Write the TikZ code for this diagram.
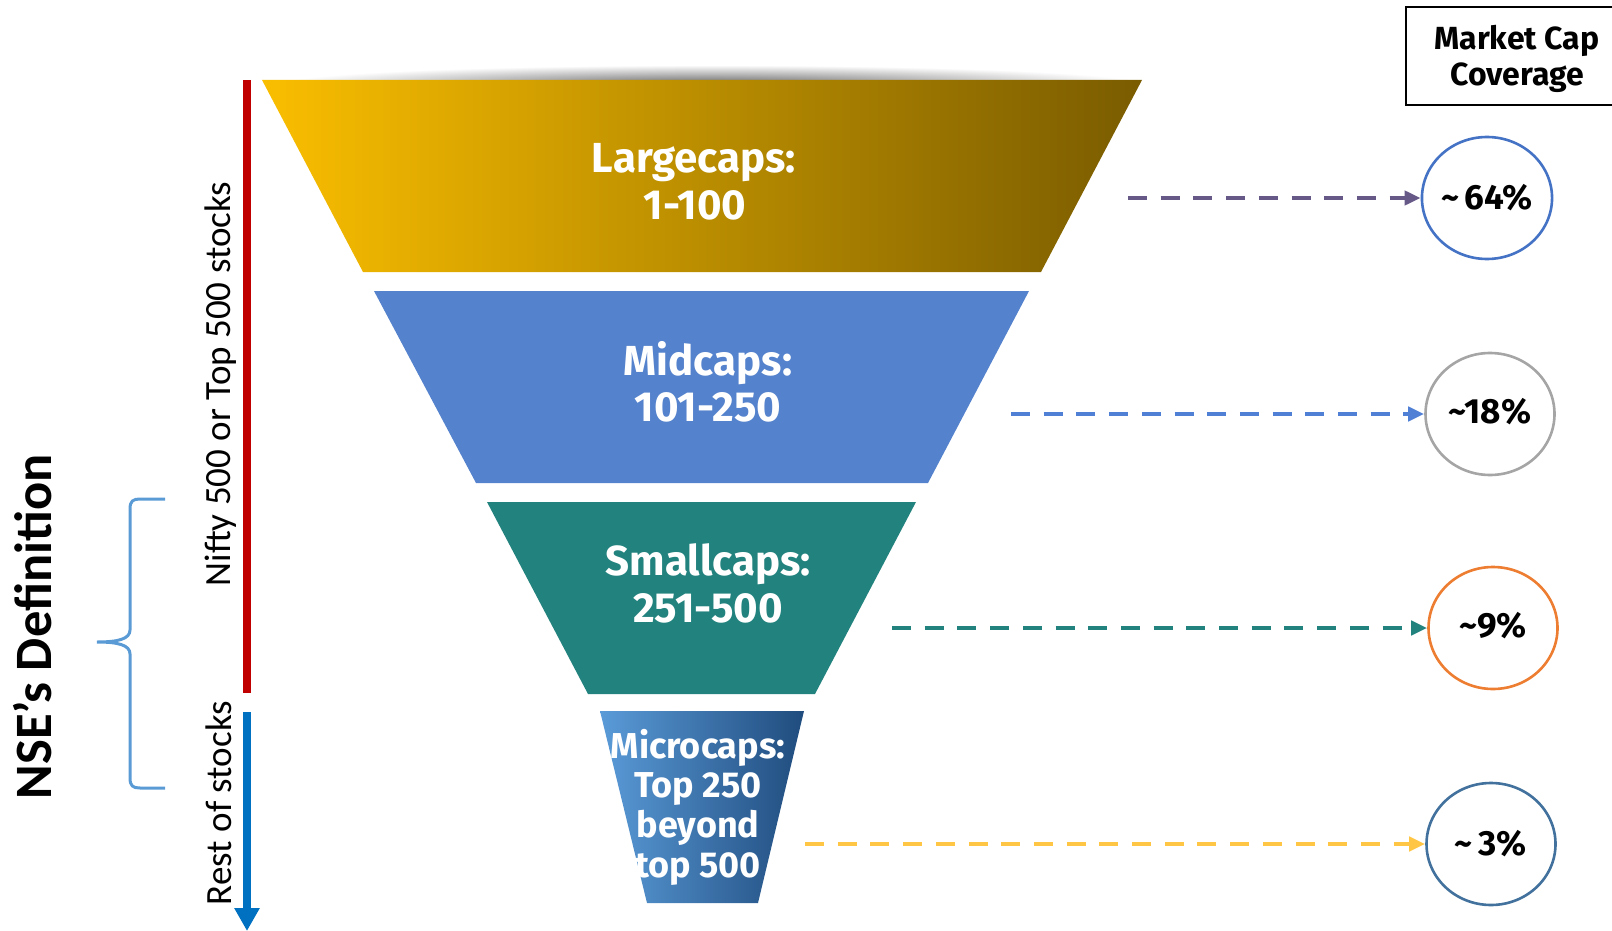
\documentclass[tikz,border=0pt]{standalone}
\usepackage{fontspec}
\usetikzlibrary{arrows.meta,shapes.geometric}
\newfontfamily\labelfont{Fira Sans}
\newfontfamily\calib{Carlito}
\newcommand{\approxsign}{{\char126}}

\definecolor{lgL}{RGB}{250,190,0}
\definecolor{lgR}{RGB}{122,92,0}
\definecolor{midc}{RGB}{84,130,204}
\definecolor{smallc}{RGB}{34,130,126}
\definecolor{micL}{RGB}{90,155,216}
\definecolor{micR}{RGB}{32,76,126}
\definecolor{arA}{RGB}{102,88,135}
\definecolor{arB}{RGB}{80,128,214}
\definecolor{arC}{RGB}{34,130,126}
\definecolor{arD}{RGB}{255,198,70}
\definecolor{ciA}{RGB}{68,114,196}
\definecolor{ciB}{RGB}{165,165,165}
\definecolor{ciC}{RGB}{237,125,49}
\definecolor{ciD}{RGB}{65,113,156}
\definecolor{bracec}{RGB}{91,155,213}
\definecolor{redbar}{RGB}{192,0,0}
\definecolor{bluebar}{RGB}{0,112,192}

\tikzset{
  tierlabel/.style={text=white, anchor=base, inner sep=0pt,
    font=\labelfont\bfseries\fontsize{42}{46}\selectfont},
  microlabel/.style={text=white, anchor=base, inner sep=0pt,
    font=\labelfont\bfseries\fontsize{36}{40}\selectfont},
  share/.style={ellipse, draw=#1, line width=2.6pt, minimum width=129pt,
    minimum height=122pt, inner sep=0pt,
    font=\labelfont\bfseries\fontsize{35}{38}\selectfont},
  pointer/.style={draw=#1, line width=4.5pt, dash pattern=on 19pt off 13.7pt,
    -{Triangle[length=16pt,width=14pt,fill=#1]}},
  sidetext/.style={rotate=90, inner sep=0pt,
    font=\calib\fontsize{37}{40}\selectfont},
}

\begin{document}
\begin{tikzpicture}[x=1pt,y=-1pt]
\useasboundingbox (0,0) rectangle (1612,931);

% soft shadow above the mouth of the funnel
\begin{scope}
  \clip (250,55) rectangle (1160,80.5);
  \shade[inner color=black!60, outer color=white] (712,84) ellipse [x radius=430, y radius=19];
\end{scope}

% funnel tiers
\shade[left color=lgL, right color=lgR] (262,80) -- (1142,80) -- (1041,272) -- (363,272) -- cycle;
\fill[midc] (374,291) -- (1029,291) -- (928,483) -- (476,483) -- cycle;
\fill[smallc] (487,502) -- (916,502) -- (815,694) -- (588,694) -- cycle;
\shade[left color=micL, right color=micR] (600,711) -- (804,711) -- (758,903) -- (647,903) -- cycle;

% tier labels
\node[tierlabel] (lg1) at (694,172.7) {Largecaps:};
\node[tierlabel] (lg2) at (695,219) {1-100};
\node[tierlabel] (md1) at (708,375) {Midcaps:};
\node[tierlabel] (md2) at (708,421.7) {101-250};
\node[tierlabel] (sm1) at (708,575) {Smallcaps:};
\node[tierlabel] (sm2) at (708,622) {251-500};
\node[microlabel] (mc1) at (698,758) {Microcaps:};
\node[microlabel] (mc2) at (698,797.5) {Top 250};
\node[microlabel] (mc3) at (698,837.5) {beyond};
\node[microlabel] (mc4) at (698,877.5) {top 500};

% coverage header
\draw[line width=2pt] (1630,7) -- (1406,7) -- (1406,105) -- (1630,105);
\node[anchor=base, inner sep=0pt, font=\labelfont\bfseries\fontsize{32}{36}\selectfont] (hd1) at (1517,50) {Market Cap};
\node[anchor=base, inner sep=0pt, font=\labelfont\bfseries\fontsize{32}{36}\selectfont] (hd2) at (1517,86) {Coverage};

% coverage shares
\node[share=ciA] (c1) at (1487,198) {\approxsign\,64\%};
\node[share=ciB] (c2) at (1490,414) {\raisebox{7pt}{\approxsign18\%}};
\node[share=ciC] (c3) at (1493,628) {\raisebox{6pt}{\approxsign9\%}};
\node[share=ciD] (c4) at (1491,844) {\raisebox{2pt}{\approxsign\,3\%}};

% pointers from tiers to shares
\coordinate (p1) at (1128,198);
\coordinate (p2) at (1011,414);
\coordinate (p3) at (892,628);
\coordinate (p4) at (805,844);
\draw[pointer=arA] (p1) -- (c1.west);
\draw[pointer=arB] (p2) -- (c2.west);
\draw[pointer=arC] (p3) -- (c3.west);
\draw[pointer=arD] (p4) -- (c4.west);

% left scale
\draw[redbar, line width=8pt] (247,80) -- (247,693);
\draw[bluebar, line width=8pt, -{Triangle[length=23pt,width=24pt]}] (247,712) -- (247,931);
\node[sidetext] (nifty) at (221,384) {Nifty 500 or Top 500 stocks};
\node[sidetext] (rest) at (219,803) {Rest of stocks};

% brace and title
\draw[bracec, line width=3pt]
  (165,499) -- (140,499) .. controls (133,499) and (130,501) .. (130,509)
  -- (130,630) .. controls (130,639) and (118,642) .. (97,642)
  .. controls (118,642) and (130,645) .. (130,654)
  -- (130,778) .. controls (130,786) and (133,788) .. (140,788) -- (165,788);
\node[rotate=90, inner sep=0pt, font=\calib\bfseries\fontsize{52.5}{56}\selectfont] (title) at (33,627) {NSE’s Definition};
\end{tikzpicture}
\end{document}
